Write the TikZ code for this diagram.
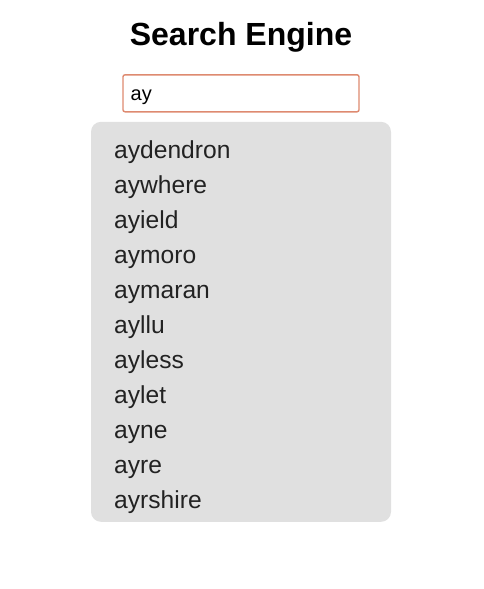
\documentclass[tikz,border=0pt]{standalone}
\usepackage{fontspec}
\setmainfont{Liberation Sans}
\definecolor{listgray}{HTML}{E0E0E0}
\definecolor{boxborder}{HTML}{DE8A70}
\definecolor{itemtext}{HTML}{222222}
\tikzset{
  item/.style={anchor=base west, inner sep=0pt, text=itemtext, font=\fontsize{24.6}{28}\selectfont},
  listpanel/.style={fill=listgray, draw=none, rounded corners=10pt},
  searchbox/.style={draw=boxborder, line width=1.4pt, fill=white, rounded corners=2pt}
}
\begin{document}
\begin{tikzpicture}[x=1pt,y=-1pt]
\useasboundingbox (0,0) rectangle (484,589);
\node[anchor=base, inner sep=0pt, font=\fontsize{32}{38}\selectfont\bfseries] (title) at (241,45) {Search Engine};
\node[searchbox, minimum width=236pt, minimum height=37pt, inner sep=0pt] (box) at (241,93.3) {};
\node[anchor=base west, inner sep=0pt, font=\fontsize{20}{24}\selectfont] (query) at (130.5,100) {ay};
\node[listpanel, minimum width=300pt, minimum height=400pt, inner sep=0pt] (panel) at (241,321.8) {};
\foreach \w [count=\i] in {aydendron,aywhere,ayield,aymoro,aymaran,ayllu,ayless,aylet,ayne,ayre,ayrshire}{
  \node[item] (item\i) at (114,158+35*\i-35) {\w};
}
\end{tikzpicture}
\end{document}
